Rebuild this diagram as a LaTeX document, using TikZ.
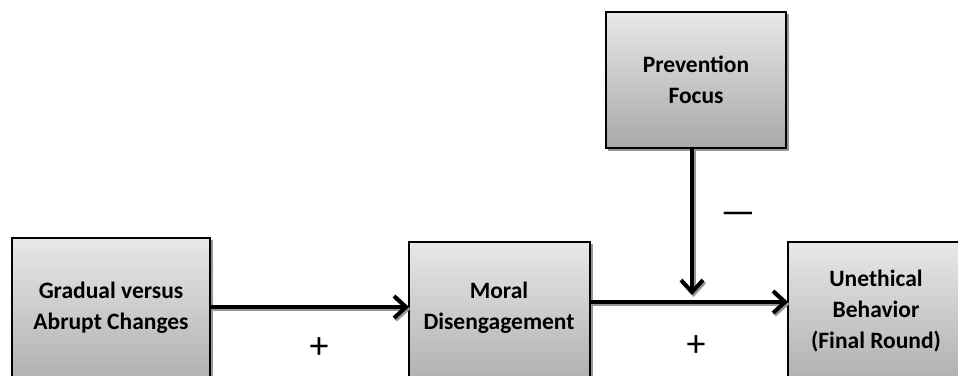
\documentclass[tikz,border=0pt]{standalone}
\usepackage{fontspec}
\setmainfont{Carlito}
\usetikzlibrary{arrows.meta}
\definecolor{boxtop}{RGB}{232,232,232}
\definecolor{boxbot}{RGB}{168,168,168}
\definecolor{shadowgray}{RGB}{150,150,150}
\tikzset{
  boxshade/.style={top color=boxtop, bottom color=boxbot, draw=black, line width=1.2pt},
  boxshadow/.style={fill=shadowgray, draw=none},
  lbl/.style={font=\bfseries\fontsize{23.5}{31}\selectfont, align=center, text=black},
  sign/.style={font=\fontsize{38}{38}\selectfont},
  conn/.style={line width=4pt, -{Straight Barb[length=12pt,width=22pt,line width=4pt]}, black},
  connshadow/.style={line width=4pt, -{Straight Barb[length=12pt,width=22pt,line width=4pt]}, shadowgray},
}
\begin{document}
\begin{tikzpicture}[x=1pt,y=-1pt]
\useasboundingbox (0,0) rectangle (958,375);
\clip (0,0) rectangle (958,375);
% shadows
\fill[boxshadow] (14,240) rectangle (213,400);
\fill[boxshadow] (411,244) rectangle (593,400);
\fill[boxshadow] (790,244) rectangle (970,400);
\fill[boxshadow] (608,14) rectangle (789,151);
% boxes
\path[boxshade] (12,238) rectangle (210,400);
\path[boxshade] (409,242) rectangle (590,400);
\path[boxshade] (788,242) rectangle (968,400);
\path[boxshade] (606,12) rectangle (786,148);
% anchor coordinates
\coordinate (gR) at (210,307);
\coordinate (mL) at (409,307);
\coordinate (mR) at (590,302);
\coordinate (uL) at (788,302);
\coordinate (pB) at (692,148);
\coordinate (jn) at (692,295);
% labels
\node[lbl] (g) at (111,308) {Gradual versus\\Abrupt Changes};
\node[lbl] (m) at (499,308) {Moral\\Disengagement};
\node[lbl] (u) at (876,311) {Unethical\\Behavior\\(Final Round)};
\node[lbl] (p) at (696,80) {Prevention\\Focus};
% connector shadows
\draw[connshadow] ([shift={(1.5,2)}]gR) -- ([shift={(1.5,2)}]mL);
\draw[connshadow] ([shift={(1.5,2)}]mR) -- ([shift={(1.5,2)}]uL);
\draw[connshadow] ([shift={(1.5,2)}]pB) -- ([shift={(1.5,2)}]jn);
% connectors
\draw[conn] (gR) -- (mL);
\draw[conn] (mR) -- (uL);
\draw[conn] (pB) -- (jn);
% signs
\node[sign] (s1) at (319,348) {+};
\node[sign] (s2) at (696,346) {+};
\node[sign, xscale=2] (s3) at (738,219) {−};
\end{tikzpicture}
\end{document}
